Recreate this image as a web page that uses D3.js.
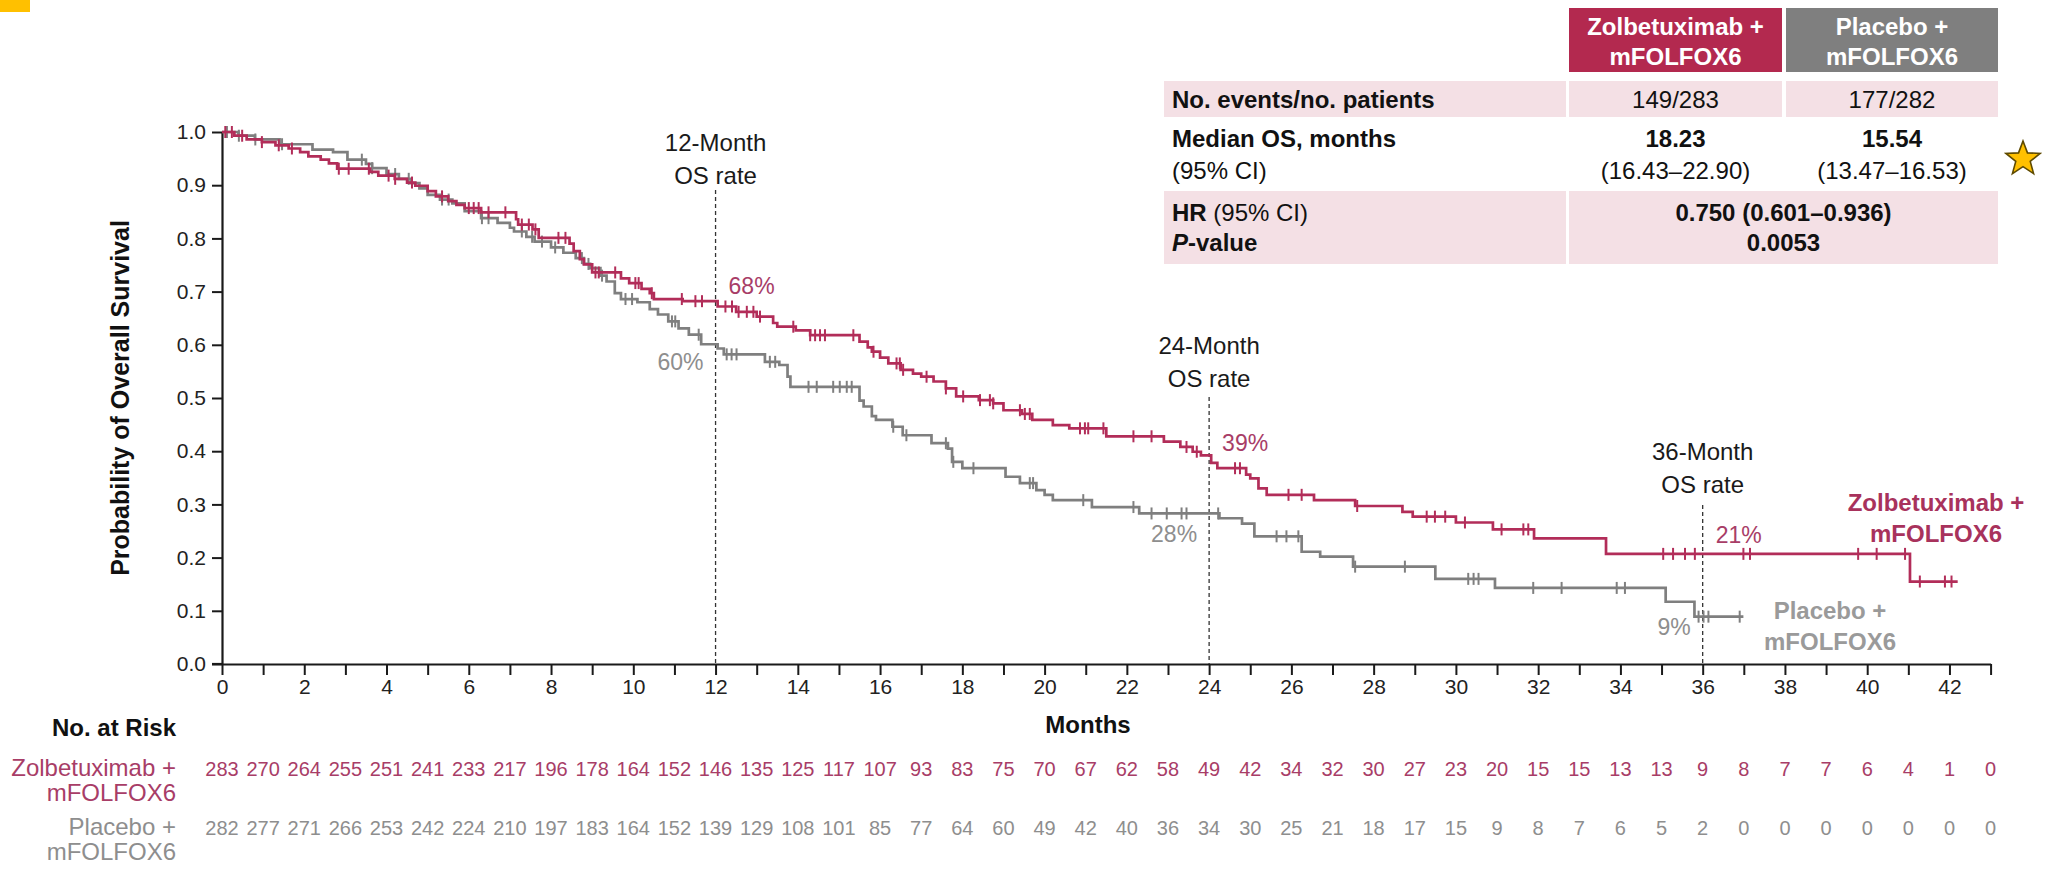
<!DOCTYPE html>
<html>
<head>
<meta charset="utf-8">
<script src="https://cdn.jsdelivr.net/npm/d3@7"></script>
<style>
  html, body { margin: 0; padding: 0; background: #ffffff; }
  svg { display: block; font-family: "Liberation Sans", Arial, sans-serif; }
</style>
</head>
<body>
<svg id="chart" width="2049" height="873"></svg>
<script>
// ---- Kaplan–Meier steps: [month, survival probability after the step] ----
const zolbeSteps = [
  [0,1.0],[0.3,0.993],[0.6,0.986],[0.97,0.981],[1.3,0.975],[1.62,0.969],[1.9,0.962],[2.1,0.954],
  [2.4,0.948],[2.6,0.941],[2.8,0.931],[3.6,0.925],[3.8,0.918],[4.2,0.912],[4.5,0.905],[4.7,0.899],
  [5.0,0.889],[5.2,0.879],[5.5,0.870],[5.7,0.863],[5.9,0.857],[6.3,0.849],[7.15,0.836],[7.2,0.826],
  [7.55,0.817],[7.7,0.801],[8.45,0.790],[8.55,0.776],[8.7,0.761],[8.8,0.751],[9.0,0.736],[9.7,0.725],
  [9.9,0.716],[10.2,0.705],[10.4,0.697],[10.5,0.686],[11.2,0.682],[12.05,0.672],[12.5,0.662],
  [13.0,0.653],[13.4,0.641],[13.5,0.634],[13.95,0.627],[14.3,0.618],[15.5,0.606],[15.7,0.595],
  [15.8,0.587],[16.0,0.576],[16.2,0.565],[16.5,0.553],[16.8,0.546],[17.0,0.540],[17.3,0.531],
  [17.6,0.518],[17.85,0.503],[18.4,0.496],[18.75,0.490],[19.0,0.477],[19.45,0.470],[19.7,0.459],
  [20.2,0.449],[20.6,0.443],[21.5,0.428],[22.9,0.418],[23.3,0.408],[23.6,0.399],[23.8,0.392],
  [24.05,0.378],[24.2,0.368],[24.9,0.356],[25.0,0.349],[25.2,0.330],[25.4,0.318],[26.55,0.308],
  [27.55,0.297],[28.7,0.286],[28.95,0.277],[30.0,0.266],[30.9,0.253],[31.9,0.236],[33.65,0.207],
  [41.04,0.155],[42.2,0.155]
];
const placeboSteps = [
  [0,1.0],[0.4,0.993],[0.8,0.986],[1.4,0.977],[2.2,0.967],[2.7,0.962],[3.05,0.948],[3.5,0.940],
  [3.65,0.932],[4.0,0.921],[4.3,0.912],[4.6,0.904],[4.8,0.894],[5.0,0.882],[5.3,0.873],[5.6,0.866],
  [5.9,0.851],[6.3,0.838],[6.7,0.829],[7.0,0.820],[7.1,0.813],[7.4,0.803],[7.6,0.794],[8.0,0.783],
  [8.3,0.773],[8.6,0.763],[8.8,0.752],[8.95,0.744],[9.2,0.730],[9.35,0.719],[9.55,0.697],[9.7,0.686],
  [10.1,0.680],[10.4,0.667],[10.6,0.657],[10.85,0.644],[11.1,0.631],[11.35,0.619],[11.65,0.601],
  [12.05,0.593],[12.2,0.582],[13.2,0.568],[13.55,0.562],[13.75,0.540],[13.82,0.521],[15.5,0.495],
  [15.6,0.484],[15.8,0.466],[15.9,0.459],[16.3,0.446],[16.55,0.430],[17.25,0.415],[17.65,0.405],
  [17.75,0.380],[18.0,0.368],[19.05,0.352],[19.4,0.340],[19.8,0.327],[20.0,0.318],[20.2,0.308],
  [21.15,0.295],[22.3,0.283],[24.25,0.274],[24.8,0.264],[25.1,0.240],[26.25,0.211],[26.7,0.202],
  [27.5,0.183],[29.5,0.160],[30.95,0.143],[35.1,0.117],[35.8,0.089],[36.99,0.089]
];

// ---- Censoring times (months) ----
const zolbeCensor = [0.08,0.24,0.49,0.97,1.38,1.7,2.84,3.08,3.57,4.05,4.21,4.62,5.35,6.0,6.12,6.24,6.48,
  6.89,7.29,7.46,7.62,8.18,8.35,9.08,9.16,9.56,10.05,10.13,10.45,11.18,11.51,11.67,12.24,12.4,12.56,
  12.76,12.92,13.08,13.89,14.3,14.42,14.54,14.66,15.35,15.84,16.4,16.48,16.56,17.13,17.6,18.02,18.43,
  18.67,18.75,19.4,19.52,19.64,20.86,20.98,21.06,21.43,22.16,22.6,23.45,23.7,24.63,24.75,25.93,26.25,
  27.6,29.29,29.49,29.74,30.22,31.11,31.64,31.76,35.04,35.28,35.57,35.81,36.99,37.15,39.78,40.23,
  40.92,41.28,41.89,42.05];
const placeboCensor = [0.12,0.41,0.81,1.46,3.4,3.65,4.21,4.54,5.35,5.51,6.32,6.48,7.29,7.54,7.78,8.1,
  8.75,8.91,9.24,9.81,9.97,10.94,11.02,11.59,12.27,12.39,12.51,13.32,13.45,14.26,14.46,14.86,15.02,
  15.19,15.31,16.32,16.64,17.6,17.78,18.27,19.64,19.72,20.94,22.16,22.6,22.97,23.33,23.45,24.22,
  25.64,25.88,26.17,27.55,28.76,30.3,30.43,30.55,31.88,32.57,33.91,34.11,35.9,36.02,36.14,36.9];

// ---- Landmark OS rates (%) ----
const landmarkMonths = [12, 24, 36];
const zolbeRates = [68, 39, 21];
const placeboRates = [60, 28, 9];

// ---- Axis ticks ----
const monthTicks = d3.range(0, 44);
const survTicks = d3.range(0, 11).map(d => d / 10);

// ---- Number at risk, months 0..43 ----
const zolbeAtRisk = [283,270,264,255,251,241,233,217,196,178,164,152,146,135,125,117,107,93,83,75,
  70,67,62,58,49,42,34,32,30,27,23,20,15,15,13,13,9,8,7,7,6,4,1,0];
const placeboAtRisk = [282,277,271,266,253,242,224,210,197,183,164,152,139,129,108,101,85,77,64,60,
  49,42,40,36,34,30,25,21,18,17,15,9,8,7,6,5,2,0,0,0,0,0,0,0];

// ---- Summary table ----
const armNames = ["Zolbetuximab +", "Placebo +"];
const armRegimen = "mFOLFOX6";
const eventsPatients = ["149/283", "177/282"];
const medianOS = ["18.23", "15.54"];
const medianCI = ["(16.43–22.90)", "(13.47–16.53)"];
const hazardRatio = "0.750 (0.601–0.936)";
const pValue = "0.0053";

// ---- Styling ----
const RED = "#b22d59", RED_TEXT = "#a83d67", GREY = "#7f7f7f", GREY_TEXT = "#8e8e8e";
const HEAD_RED = "#b3294f", HEAD_GREY = "#7f7f7f", PINK = "#f4e0e5";

function fontAvailable(name) {
  const ctx = document.createElement("canvas").getContext("2d");
  const probe = "283 270 264 mmmWW";
  ctx.font = "40px monospace";
  const a = ctx.measureText(probe).width;
  ctx.font = `40px "${name}", monospace`;
  const b = ctx.measureText(probe).width;
  return a !== b;
}
const hasNarrow = fontAvailable("Liberation Sans Narrow");
const NUM_FONT = hasNarrow ? '"Liberation Sans Narrow", "Arial Narrow", sans-serif' : '"Liberation Sans", Arial, sans-serif';
const NUM_SIZE = hasNarrow ? 24 : 20;

const svg = d3.select("#chart");

const x = d3.scaleLinear().domain([0, 43]).range([222, 222 + 43 * 41.13]);
const y = d3.scaleLinear().domain([0, 1]).range([664, 132]);

function survAt(steps, t) {
  let v = steps[0][1];
  for (const s of steps) { if (s[0] <= t) v = s[1]; else break; }
  return v;
}

// small corner accent
svg.append("rect").attr("x", 0).attr("y", 0).attr("width", 30).attr("height", 12).attr("fill", "#ffc000");

// ---- Axes ----
const yAxis = svg.append("g").attr("transform", `translate(${x(0)},0)`)
  .call(d3.axisLeft(y).tickValues(survTicks).tickFormat(d3.format(".1f")).tickSize(10).tickSizeOuter(0));
const xAxis = svg.append("g").attr("transform", `translate(0,${y(0)})`)
  .call(d3.axisBottom(x).tickValues(monthTicks)
    .tickFormat(d => (d % 2 === 0 && d <= 42) ? d : "").tickSize(11).tickSizeOuter(0));
[yAxis, xAxis].forEach(g => {
  g.selectAll("path.domain").attr("stroke", "#1a1a1a").attr("stroke-width", 2.2);
  g.selectAll(".tick line").attr("stroke", "#1a1a1a").attr("stroke-width", 2);
  g.selectAll(".tick text").attr("fill", "#222").style("font-family", NUM_FONT).style("font-size", (NUM_SIZE + 1) + "px");
});
yAxis.selectAll(".tick text").attr("x", -16);
xAxis.selectAll(".tick text").attr("y", 15);
// extend x axis to the 0.0 tick
svg.append("line").attr("x1", x(0) - 10).attr("x2", x(0)).attr("y1", y(0)).attr("y2", y(0))
  .attr("stroke", "#1a1a1a").attr("stroke-width", 2.2);

svg.append("text").attr("transform", `translate(120,${(y(0) + y(1)) / 2}) rotate(-90)`)
  .attr("text-anchor", "middle").attr("dy", "0.35em")
  .style("font-weight", "bold").style("font-size", "25px").attr("fill", "#111")
  .text("Probability of Overall Survival");
svg.append("text").attr("x", 1088).attr("y", 733).attr("text-anchor", "middle")
  .style("font-weight", "bold").style("font-size", "24px").attr("fill", "#111").text("Months");

// ---- Landmark dashed lines and labels ----
const lmTop = [190, 397, 505];
const lmLabelY = [143, 346, 452];
landmarkMonths.forEach((m, i) => {
  svg.append("line").attr("x1", x(m)).attr("x2", x(m)).attr("y1", lmTop[i]).attr("y2", y(0))
    .attr("stroke", "#333").attr("stroke-width", 1.3).attr("stroke-dasharray", "4,3");
  const t = svg.append("text").attr("text-anchor", "middle").style("font-size", "24px").attr("fill", "#1a1a1a");
  t.append("tspan").attr("x", x(m)).attr("y", lmLabelY[i] + 8).text(`${m}-Month`);
  t.append("tspan").attr("x", x(m)).attr("y", lmLabelY[i] + 41).text("OS rate");
});
const zolbeRateY = [286, 443, 535];
const placeboRateY = [362, 534, 627];
landmarkMonths.forEach((m, i) => {
  svg.append("text").attr("x", x(m) + 13).attr("y", zolbeRateY[i] + 8)
    .style("font-size", "23px").attr("fill", RED_TEXT).text(`${zolbeRates[i]}%`);
  svg.append("text").attr("x", x(m) - 12).attr("y", placeboRateY[i] + 8).attr("text-anchor", "end")
    .style("font-size", "23px").attr("fill", GREY_TEXT).text(`${placeboRates[i]}%`);
});

// ---- KM curves ----
const line = d3.line().x(d => x(d[0])).y(d => y(d[1])).curve(d3.curveStepAfter);
function drawArm(steps, censor, color) {
  svg.append("path").datum(steps).attr("d", line).attr("fill", "none")
    .attr("stroke", color).attr("stroke-width", 2.7).attr("stroke-linejoin", "miter");
  svg.append("g").selectAll("line").data(censor).join("line")
    .attr("x1", d => x(d)).attr("x2", d => x(d))
    .attr("y1", d => y(survAt(steps, d)) - 6).attr("y2", d => y(survAt(steps, d)) + 6)
    .attr("stroke", color).attr("stroke-width", 2);
}
drawArm(placeboSteps, placeboCensor, GREY);
drawArm(zolbeSteps, zolbeCensor, RED);

// ---- Arm labels on the plot ----
[[armNames[0], 1936, 502, "#a8325c"], [armRegimen, 1936, 533, "#a8325c"],
 [armNames[1], 1830, 610, "#9a9a9a"], [armRegimen, 1830, 641, "#9a9a9a"]].forEach(([s, cx, cy, c]) => {
  svg.append("text").attr("x", cx).attr("y", cy + 9).attr("text-anchor", "middle")
    .style("font-weight", "bold").style("font-size", "24px").attr("fill", c).text(s);
});

// ---- Number at risk ----
svg.append("text").attr("x", 176).attr("y", 736).attr("text-anchor", "end")
  .style("font-weight", "bold").style("font-size", "24px").attr("fill", "#111").text("No. at Risk");
function riskRow(label, values, cy, color) {
  svg.append("text").attr("x", 176).attr("y", cy + 8).attr("text-anchor", "end")
    .style("font-size", "24px").attr("fill", color).text(label);
  svg.append("text").attr("x", 176).attr("y", cy + 33).attr("text-anchor", "end")
    .style("font-size", "24px").attr("fill", color).text(armRegimen);
  svg.append("g").selectAll("text").data(values).join("text")
    .attr("x", (d, i) => x(monthTicks[i])).attr("y", cy + 8).attr("text-anchor", "middle")
    .style("font-family", NUM_FONT).style("font-size", NUM_SIZE + "px").attr("fill", color)
    .text(d => d);
}
riskRow(armNames[0], zolbeAtRisk, 768, RED_TEXT);
riskRow(armNames[1], placeboAtRisk, 827, GREY_TEXT);

// ---- Summary table ----
const tbl = svg.append("g");
const col = [[1164, 1566], [1569, 1782], [1786, 1998]];
const colMid = c => (col[c][0] + col[c][1]) / 2;
// header cells
[[1, HEAD_RED], [2, HEAD_GREY]].forEach(([c, fill], i) => {
  tbl.append("rect").attr("x", col[c][0]).attr("y", 8).attr("width", col[c][1] - col[c][0]).attr("height", 64).attr("fill", fill);
  const t = tbl.append("text").attr("text-anchor", "middle").style("font-weight", "bold").style("font-size", "24px").attr("fill", "#fff");
  t.append("tspan").attr("x", colMid(c)).attr("y", 35).text(armNames[i]);
  t.append("tspan").attr("x", colMid(c)).attr("y", 65).text(armRegimen);
});
// shaded rows
[[81, 117], [191, 264]].forEach(([y0, y1], r) => {
  const cols = r === 0 ? [[1164, 1566], [1569, 1782], [1786, 1998]] : [[1164, 1566], [1569, 1998]];
  cols.forEach(([a, b]) => tbl.append("rect").attr("x", a).attr("y", y0).attr("width", b - a).attr("height", y1 - y0).attr("fill", PINK));
});
function cell(txt, cx, cy, opts = {}) {
  const t = tbl.append("text").attr("x", cx).attr("y", cy + 9).style("font-size", "24px").attr("fill", "#111")
    .attr("text-anchor", opts.anchor || "middle");
  if (opts.bold) t.style("font-weight", "bold");
  t.text(txt);
  return t;
}
cell("No. events/no. patients", 1172, 99, { anchor: "start", bold: true });
eventsPatients.forEach((s, i) => cell(s, colMid(i + 1), 99));
cell("Median OS, months", 1172, 138, { anchor: "start", bold: true });
cell("(95% CI)", 1172, 170, { anchor: "start" });
medianOS.forEach((s, i) => cell(s, colMid(i + 1), 138, { bold: true }));
medianCI.forEach((s, i) => cell(s, colMid(i + 1), 170));
const hr = tbl.append("text").attr("x", 1172).attr("y", 221).style("font-size", "24px").attr("fill", "#111");
hr.append("tspan").style("font-weight", "bold").text("HR");
hr.append("tspan").text(" (95% CI)");
const pv = tbl.append("text").attr("x", 1172).attr("y", 251).style("font-size", "24px").attr("fill", "#111").style("font-weight", "bold");
pv.append("tspan").style("font-style", "italic").text("P");
pv.append("tspan").text("-value");
cell(hazardRatio, (1569 + 1998) / 2, 212, { bold: true });
cell(pValue, (1569 + 1998) / 2, 242, { bold: true });

// ---- Star marker ----
const starR = 18, starr = 7.6, scx = 2023, scy = 159;
const starPts = d3.range(10).map(k => {
  const r = k % 2 === 0 ? starR : starr;
  const a = -Math.PI / 2 + k * Math.PI / 5;
  return [scx + r * Math.cos(a), scy + r * Math.sin(a)];
});
svg.append("polygon").attr("points", starPts.map(p => p.join(",")).join(" "))
  .attr("fill", "#ffc000").attr("stroke", "#5e4a00").attr("stroke-width", 1.6).attr("stroke-linejoin", "miter");
</script>
</body>
</html>
